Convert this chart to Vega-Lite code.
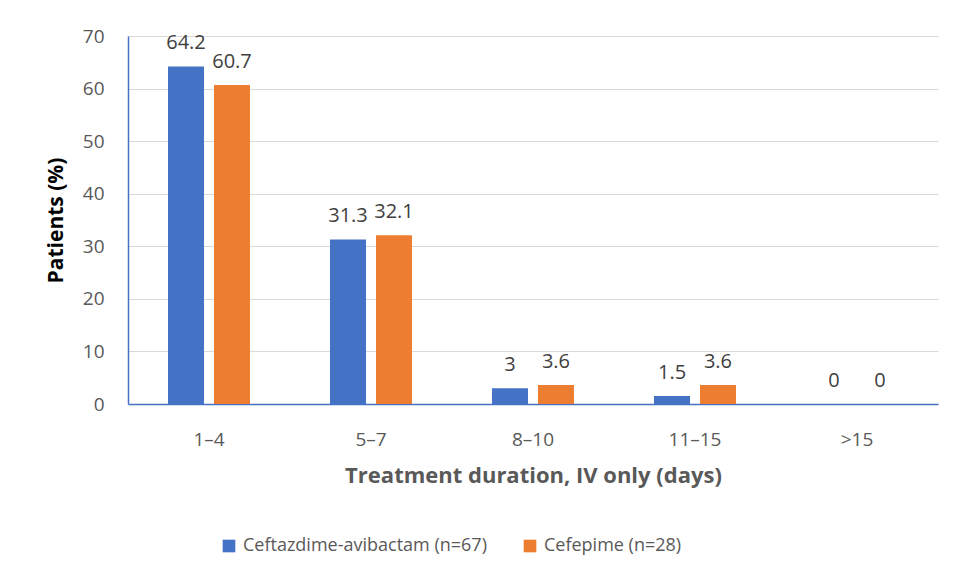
{
  "$schema": "https://vega.github.io/schema/vega-lite/v6.json",
  "width": 810,
  "height": 368,
  "autosize": "none",
  "padding": {"left": 128, "top": 36, "right": 17, "bottom": 177},
  "background": "white",
  "config": {
    "font": "Open Sans",
    "view": {"stroke": null},
    "axis": {"labelFont": "Open Sans", "titleFont": "Open Sans"},
    "legend": {"labelFont": "Open Sans"}
  },
  "data": {
    "values": [
      {"duration": "1–4", "drug": "Ceftazdime-avibactam (n=67)", "pct": 64.2},
      {"duration": "1–4", "drug": "Cefepime (n=28)", "pct": 60.7},
      {"duration": "5–7", "drug": "Ceftazdime-avibactam (n=67)", "pct": 31.3},
      {"duration": "5–7", "drug": "Cefepime (n=28)", "pct": 32.1},
      {"duration": "8–10", "drug": "Ceftazdime-avibactam (n=67)", "pct": 3},
      {"duration": "8–10", "drug": "Cefepime (n=28)", "pct": 3.6},
      {"duration": "11–15", "drug": "Ceftazdime-avibactam (n=67)", "pct": 1.5},
      {"duration": "11–15", "drug": "Cefepime (n=28)", "pct": 3.6},
      {"duration": ">15", "drug": "Ceftazdime-avibactam (n=67)", "pct": 0},
      {"duration": ">15", "drug": "Cefepime (n=28)", "pct": 0}
    ]
  },
  "encoding": {
    "x": {
      "field": "duration",
      "type": "nominal",
      "sort": ["1–4", "5–7", "8–10", "11–15", ">15"],
      "scale": {"paddingInner": 0, "paddingOuter": 0},
      "axis": {
        "title": "Treatment duration, IV only (days)",
        "titleFontSize": 22,
        "titleFontWeight": "bold",
        "titleColor": "#595959",
        "titlePadding": 16,
        "labelAngle": 0,
        "labelFontSize": 19,
        "labelColor": "#595959",
        "labelPadding": 26,
        "ticks": false,
        "domainColor": "#4472C4",
        "domainWidth": 1.5
      }
    },
    "xOffset": {
      "field": "drug",
      "type": "nominal",
      "sort": ["Ceftazdime-avibactam (n=67)", "Cefepime (n=28)"],
      "scale": {"paddingInner": 0.217, "paddingOuter": 0.87}
    },
    "y": {
      "field": "pct",
      "type": "quantitative",
      "scale": {"domain": [0, 70], "nice": false},
      "axis": {
        "title": "Patients (%)",
        "titleFontSize": 21,
        "titleFontWeight": "bold",
        "titleColor": "#000000",
        "titlePadding": 16,
        "values": [0, 10, 20, 30, 40, 50, 60, 70],
        "labelFontSize": 19,
        "labelColor": "#595959",
        "labelPadding": 24,
        "ticks": false,
        "gridColor": "#D9D9D9",
        "gridWidth": 1,
        "domainColor": "#4472C4",
        "domainWidth": 1.5
      }
    },
    "color": {
      "field": "drug",
      "type": "nominal",
      "sort": ["Ceftazdime-avibactam (n=67)", "Cefepime (n=28)"],
      "scale": {
        "domain": ["Ceftazdime-avibactam (n=67)", "Cefepime (n=28)"],
        "range": ["#4472C4", "#ED7D31"]
      },
      "legend": {
        "title": null,
        "orient": "none",
        "legendX": 92,
        "legendY": 501,
        "direction": "horizontal",
        "columns": 2,
        "columnPadding": 34,
        "symbolType": "square",
        "symbolSize": 160,
        "symbolStrokeWidth": 0,
        "labelFontSize": 18,
        "labelLimit": 0,
        "labelColor": "#595959",
        "labelOffset": 5
      }
    }
  },
  "layer": [
    {"mark": {"type": "bar"}},
    {
      "mark": {"type": "text", "baseline": "bottom", "dy": -13, "fontSize": 20, "color": "#404040"},
      "encoding": {
        "text": {"field": "pct", "type": "quantitative"},
        "color": {"value": "#404040"}
      }
    }
  ]
}
